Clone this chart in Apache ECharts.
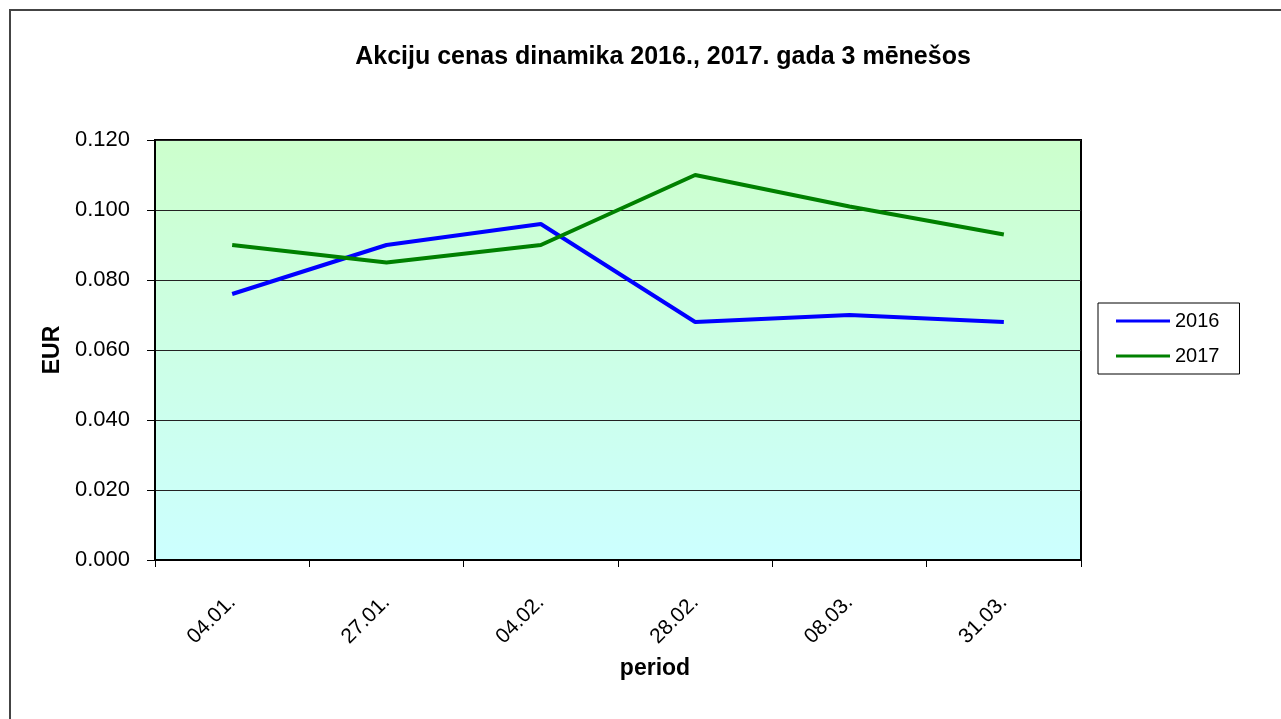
<!DOCTYPE html>
<html>
<head>
<meta charset="utf-8">
<script src="https://cdn.jsdelivr.net/npm/echarts@6/dist/echarts.min.js"></script>
<style>
  html, body { margin: 0; padding: 0; background: #fff; }
  #chart { width: 1281px; height: 719px; }
</style>
</head>
<body>
<div id="chart"></div>
<script>
// data
let periods = ["04.01.", "27.01.", "04.02.", "28.02.", "08.03.", "31.03."];
let price2016 = [0.076, 0.090, 0.096, 0.068, 0.070, 0.068];
let price2017 = [0.090, 0.085, 0.090, 0.110, 0.101, 0.093];
let seriesNames = ["2016", "2017"];

let font = "Liberation Sans, Arial, sans-serif";

let chart = echarts.init(document.getElementById("chart"));
chart.setOption({
  animation: false,
  backgroundColor: "#fff",
  textStyle: { fontFamily: font },
  title: {
    text: "Akciju cenas dinamika 2016., 2017. gada 3 mēnešos",
    left: 658,
    textAlign: "center",
    top: 40,
    textStyle: { fontFamily: font, fontSize: 25, fontWeight: "bold", color: "#000" }
  },
  graphic: [
    {
      type: "rect",
      shape: { x: 10, y: 10, width: 1400, height: 900 },
      style: { fill: null, stroke: "#444", lineWidth: 2 },
      silent: true
    }
  ],
  legend: {
    data: seriesNames,
    orient: "vertical",
    left: 1098,
    top: 303,
    padding: [8, 20, 8, 18],
    itemGap: 15,
    itemWidth: 54,
    itemHeight: 20,
    borderColor: "#000",
    borderWidth: 1,
    icon: "path://M0,0 L54,0 L54,3 L0,3 Z",
    textStyle: { fontFamily: font, fontSize: 20, color: "#000" }
  },
  grid: {
    left: 155,
    top: 140,
    width: 926,
    height: 420,
    show: true,
    borderColor: "#000",
    borderWidth: 2,
    backgroundColor: {
      type: "linear", x: 0, y: 0, x2: 0, y2: 1,
      colorStops: [
        { offset: 0, color: "#CCFFCC" },
        { offset: 1, color: "#CCFFFF" }
      ]
    }
  },
  xAxis: {
    type: "category",
    data: periods,
    boundaryGap: true,
    name: "period",
    nameLocation: "middle",
    nameGap: 97,
    nameTextStyle: { fontFamily: font, fontSize: 23, fontWeight: "bold", color: "#000", padding: [0, 0, 0, 74] },
    axisLine: { lineStyle: { color: "#000", width: 2 } },
    axisTick: { show: true, inside: false, length: 7, alignWithLabel: false, lineStyle: { color: "#000", width: 1 } },
    axisLabel: { rotate: 45, margin: 39, fontFamily: font, fontSize: 21, color: "#000" },
    splitLine: { show: false }
  },
  yAxis: {
    type: "value",
    min: 0,
    max: 0.12,
    interval: 0.02,
    name: "EUR",
    nameLocation: "middle",
    nameGap: 85,
    nameRotate: 90,
    nameTextStyle: { fontFamily: font, fontSize: 23, fontWeight: "bold", color: "#000" },
    axisLine: { show: true, lineStyle: { color: "#000", width: 2 } },
    axisTick: { show: true, inside: false, length: 8, lineStyle: { color: "#000", width: 1 } },
    axisLabel: {
      margin: 25,
      fontFamily: font,
      fontSize: 22,
      color: "#000",
      formatter: function (v) { return v.toFixed(3); }
    },
    splitLine: { show: true, lineStyle: { color: "#222", width: 1 } }
  },
  series: [
    {
      name: "2016",
      type: "line",
      data: price2016,
      symbol: "none",
      color: "#0000FF",
      lineStyle: { color: "#0000FF", width: 4 }
    },
    {
      name: "2017",
      type: "line",
      data: price2017,
      symbol: "none",
      color: "#008000",
      lineStyle: { color: "#008000", width: 4 }
    }
  ]
});
</script>
</body>
</html>
